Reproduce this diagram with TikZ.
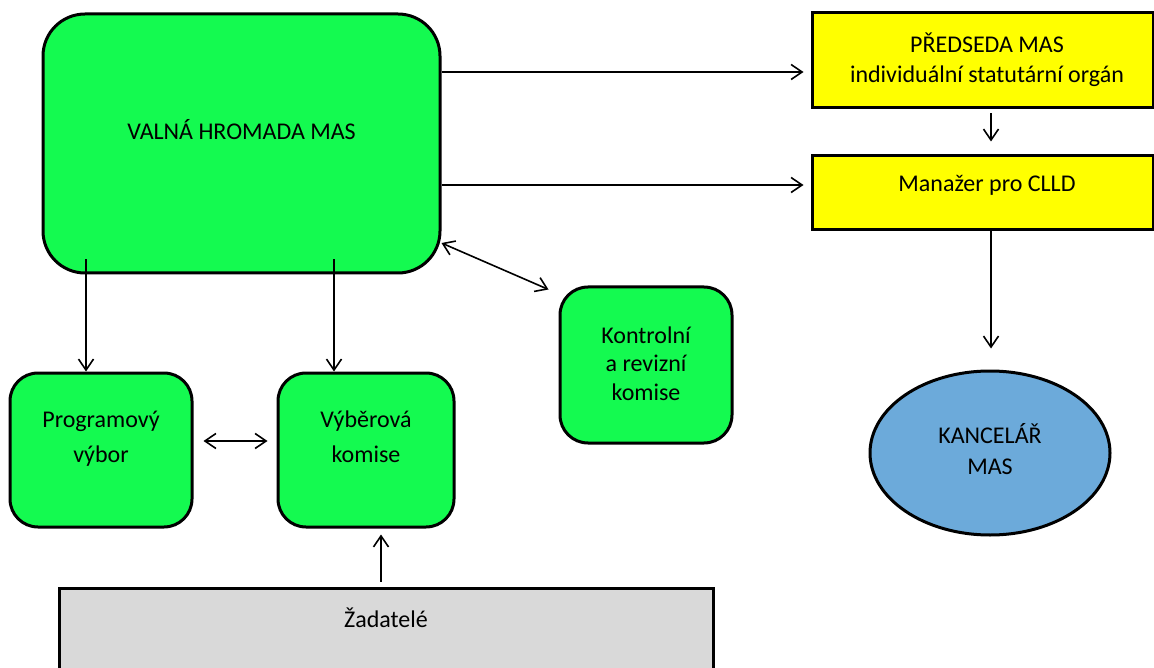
\documentclass[tikz,border=0pt]{standalone}
\usepackage{fontspec}
\setmainfont{Carlito}
\usetikzlibrary{arrows.meta,shapes.geometric}
\definecolor{boxgreen}{RGB}{20,250,80}
\definecolor{boxyellow}{RGB}{255,255,0}
\definecolor{boxblue}{RGB}{108,170,218}
\definecolor{boxgray}{RGB}{217,217,217}
% #1 width, #2 height, #3 first baseline from top, #4 baselineskip, #5 text
\newcommand\tbox[5]{\parbox[c][#2][t]{#1}{\fontsize{24}{#4}\selectfont\centering\vspace*{\dimexpr#3-22pt\relax}\rule{0pt}{22pt}#5\par}}
\tikzset{
  rbox/.style={draw, line width=3pt, inner sep=0pt, fill=boxgreen, rounded corners=28pt},
  sbox/.style={draw, line width=3pt, inner sep=0pt},
  arr/.style={line width=1.6pt, -{Straight Barb[length=11pt,width=15pt,line width=1.6pt]}},
  dbl/.style={line width=1.6pt, {Straight Barb[length=11pt,width=15pt,line width=1.6pt]}-{Straight Barb[length=11pt,width=15pt,line width=1.6pt]}}
}
\begin{document}
\begin{tikzpicture}[x=1pt,y=-1pt]
\useasboundingbox (0,0) rectangle (1154,668);
\fill[white] (0,0) rectangle (1154,668);

\node[rbox, rounded corners=42pt] (vh) at (241.5,143.5) {\tbox{397pt}{259pt}{126pt}{30pt}{VALNÁ HROMADA MAS}};

\node[sbox, fill=boxyellow] (pd) at (982.5,60.5) {\tbox{341pt}{95pt}{40pt}{30pt}{\hspace*{9pt}PŘEDSEDA MAS\\\hspace*{9pt}individuální statutární orgán}};
\node[sbox, fill=boxyellow] (mg) at (982.5,193) {\tbox{341pt}{74pt}{36pt}{30pt}{\hspace*{9pt}Manažer pro CLLD}};

\node[rbox] (kk) at (646,365) {\tbox{172pt}{156pt}{56pt}{28.7pt}{Kontrolní\\a revizní\\komise}};
\node[rbox] (pv) at (101,450) {\tbox{182pt}{154pt}{54pt}{35pt}{Programový\\výbor}};
\node[rbox] (vk) at (366,450) {\tbox{176pt}{154pt}{54pt}{35pt}{Výběrová\\komise}};

\node[sbox, fill=boxgray] (zd) at (386,648) {\tbox{654pt}{120pt}{39pt}{30pt}{Žadatelé}};

\node[ellipse, draw, line width=3pt, fill=boxblue, inner sep=0pt, minimum width=240pt, minimum height=164pt] (kn) at (990,453) {\tbox{140pt}{80pt}{30pt}{31pt}{KANCELÁŘ\\MAS}};

\draw[arr, shorten >=7pt] (vh.east |- 0,72) -- (pd.west |- 0,72);
\draw[arr, shorten >=7pt] (vh.east |- 0,185) -- (mg.west |- 0,185);
\draw[arr, shorten <=4pt, shorten >=13pt] (pd.south -| 991,0) -- (mg.north -| 991,0);
\draw[arr, shorten >=21pt] (mg.south -| 991,0) -- (kn.north -| 991,0);
\draw[arr, shorten <=-15pt] (vh.south -| 86,0) -- (pv.north -| 86,0);
\draw[arr, shorten <=-15pt] (vh.south -| 334,0) -- (vk.north -| 334,0);
\draw[dbl, shorten <=10pt, shorten >=9pt] (pv.east |- 0,441) -- (vk.west |- 0,441);
\draw[arr, shorten <=5pt, shorten >=6pt] (zd.north -| 381,0) -- (vk.south -| 381,0);
\draw[dbl] (vh.east |- 0,243) -- ([xshift=-10pt,yshift=-4pt]kk.north west);
\end{tikzpicture}
\end{document}
